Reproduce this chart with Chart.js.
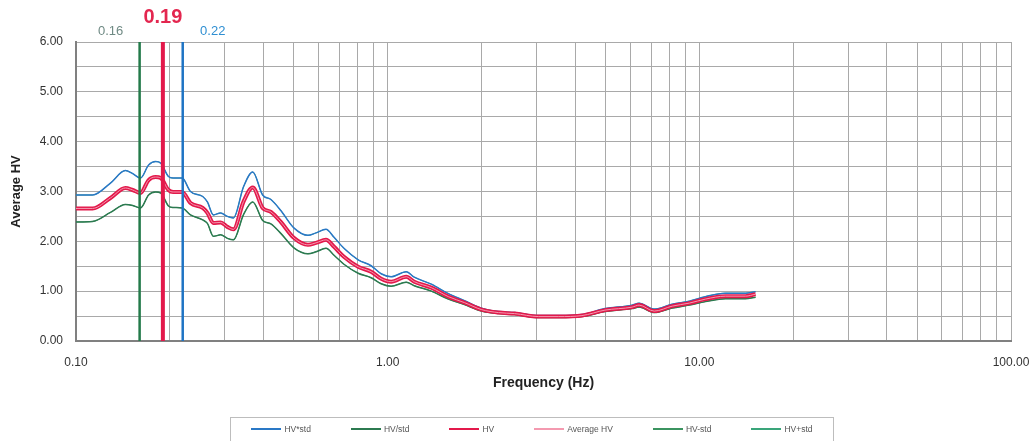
<!DOCTYPE html>
<html>
<head>
<meta charset="utf-8">
<script src="https://cdn.jsdelivr.net/npm/chart.js@4.4.1/dist/chart.umd.min.js"></script>
<style>
  html, body { margin: 0; padding: 0; background: #fff; }
  #wrap { position: relative; width: 1034px; height: 441px; overflow: hidden;
          font-family: "Liberation Sans", Arial, sans-serif; }
  #hv { position: absolute; left: 0; top: 0; }
  #legend { position: absolute; left: 230px; top: 417px; width: 604px; height: 30px;
            border: 1px solid #bdbdbd; box-sizing: border-box; display: flex;
            justify-content: center; align-items: flex-start; gap: 40px; padding-top: 6px;
            font-size: 8.5px; color: #555; }
  #legend .item { display: flex; align-items: center; white-space: nowrap; }
  #legend .sw { display: inline-block; width: 30px; margin-right: 3px; }
</style>
</head>
<body>
<div id="wrap">
  <canvas id="hv" width="1034" height="441"></canvas>
  <div id="legend"></div>
</div>
<script>
// Frequencies (Hz) of the H/V spectral ratio samples
const freqs = [0.100, 0.113, 0.129, 0.144, 0.152, 0.161, 0.171, 0.180, 0.187, 0.198,
               0.205, 0.219, 0.233, 0.255, 0.264, 0.276, 0.291, 0.306, 0.320, 0.345,
               0.369, 0.397, 0.422, 0.454, 0.500, 0.555, 0.589, 0.634, 0.673, 0.724,
               0.804, 0.885, 0.953, 1.026, 1.147, 1.217, 1.381, 1.566, 1.764, 2.000,
               2.269, 2.555, 3.052, 3.541, 4.200, 4.981, 6.085, 6.409, 7.164, 8.186,
               9.286, 10.45, 12.13, 14.07, 15.15];

// Mean H/V amplitude
const hv = [2.66, 2.66, 2.87, 3.07, 3.03, 2.97, 3.23, 3.29, 3.27, 3.03,
            2.99, 2.99, 2.77, 2.67, 2.57, 2.37, 2.38, 2.29, 2.24, 2.80,
            3.08, 2.67, 2.59, 2.39, 2.07, 1.93, 1.97, 2.03, 1.89, 1.69,
            1.49, 1.39, 1.25, 1.19, 1.29, 1.19, 1.07, 0.89, 0.77, 0.63,
            0.57, 0.55, 0.49, 0.49, 0.51, 0.62, 0.68, 0.72, 0.60, 0.70,
            0.76, 0.84, 0.90, 0.90, 0.94];

// H/V multiplied by the standard deviation factor
const hvTimesStd = [2.93, 2.93, 3.17, 3.42, 3.36, 3.27, 3.53, 3.60, 3.57, 3.30,
                    3.27, 3.27, 3.00, 2.90, 2.79, 2.53, 2.57, 2.50, 2.47, 3.10,
                    3.39, 2.93, 2.84, 2.62, 2.27, 2.12, 2.17, 2.24, 2.08, 1.86,
                    1.63, 1.51, 1.35, 1.29, 1.39, 1.28, 1.14, 0.95, 0.81, 0.66,
                    0.59, 0.57, 0.51, 0.51, 0.53, 0.65, 0.72, 0.76, 0.64, 0.74,
                    0.80, 0.89, 0.96, 0.96, 0.99];

// H/V divided by the standard deviation factor
const hvDivStd = [2.39, 2.40, 2.58, 2.74, 2.72, 2.67, 2.93, 2.99, 2.97, 2.71,
                  2.68, 2.67, 2.53, 2.43, 2.36, 2.10, 2.13, 2.06, 2.03, 2.54,
                  2.79, 2.42, 2.35, 2.16, 1.87, 1.75, 1.79, 1.86, 1.72, 1.54,
                  1.36, 1.27, 1.15, 1.10, 1.18, 1.11, 1.00, 0.84, 0.73, 0.60,
                  0.55, 0.53, 0.47, 0.47, 0.49, 0.59, 0.65, 0.68, 0.57, 0.66,
                  0.72, 0.79, 0.85, 0.85, 0.88];

// Peak frequency and its lower / upper bounds (Hz)
const peakFreq = 0.19;
const peakLow = 0.16;
const peakHigh = 0.22;

// Axis ranges
const xRange = [0.1, 100];
const yRange = [0, 6];

const FONT = '"Liberation Sans", Arial, sans-serif';

const pts = arr => freqs.map((f, i) => ({ x: f, y: arr[i] }));
const vline = f => [{ x: f, y: yRange[0] }, { x: f, y: yRange[1] }];

const series = [
  { label: 'HV*std',     data: hvTimesStd, color: '#2a78c6', width: 1.5, order: 3 },
  { label: 'HV/std',     data: hvDivStd,   color: '#2c7a50', width: 1.5, order: 4 },
  { label: 'HV',         data: hv,         color: '#e3194b', width: 4,   order: 2 },
  { label: 'Average HV', data: hv,         color: '#f49ab0', width: 1,   order: 1 },
  { label: 'HV-std',     data: hvDivStd,   color: '#3b9460', width: 1,   order: 6 },
  { label: 'HV+std',     data: hvTimesStd, color: '#3aa57a', width: 1,   order: 5 }
];

const datasets = series.map(s => ({
  label: s.label,
  data: pts(s.data),
  borderColor: s.color,
  borderWidth: s.width,
  pointRadius: 0,
  fill: false,
  cubicInterpolationMode: 'monotone',
  order: s.order
}));

// Vertical markers at the peak frequency and its bounds
datasets.push(
  { label: 'f0 low',  data: vline(peakLow),  borderColor: '#237a4a', borderWidth: 2.5, pointRadius: 0, order: 0 },
  { label: 'f0',      data: vline(peakFreq), borderColor: '#e3194b', borderWidth: 4,   pointRadius: 0, order: 0 },
  { label: 'f0 high', data: vline(peakHigh), borderColor: '#1f74c4', borderWidth: 2.5, pointRadius: 0, order: 0 }
);

// Frequency values written above the plot
const peakLabels = {
  id: 'peakLabels',
  afterDraw(chart) {
    const { ctx, scales: { x } } = chart;
    ctx.save();
    ctx.textAlign = 'center';
    ctx.textBaseline = 'middle';
    ctx.font = '13px ' + FONT;
    ctx.fillStyle = '#6f8a84';
    ctx.fillText(peakLow.toFixed(2), x.getPixelForValue(peakLow) - 29, 31);
    ctx.fillStyle = '#2f8fd2';
    ctx.fillText(peakHigh.toFixed(2), x.getPixelForValue(peakHigh) + 30, 31);
    ctx.font = 'bold 20px ' + FONT;
    ctx.fillStyle = '#e3264f';
    ctx.fillText(peakFreq.toFixed(2), x.getPixelForValue(peakFreq), 17);
    ctx.restore();
  }
};

new Chart(document.getElementById('hv'), {
  type: 'line',
  data: { datasets },
  options: {
    responsive: false,
    animation: false,
    parsing: true,
    layout: { padding: { left: 0, top: 42, right: 23, bottom: 45 } },
    plugins: { legend: { display: false }, tooltip: { enabled: false } },
    scales: {
      x: {
        type: 'logarithmic',
        min: xRange[0],
        max: xRange[1],
        afterBuildTicks(scale) {
          const t = [];
          for (let e = -1; e <= 1; e++)
            for (let m = 1; m <= 9; m++) t.push({ value: m * Math.pow(10, e) });
          t.push({ value: 100 });
          scale.ticks = t;
        },
        afterFit(scale) {
          scale.height = 55;
          scale.paddingLeft = 0;
          scale.paddingRight = 0;
        },
        ticks: {
          autoSkip: false,
          maxRotation: 0,
          padding: 14,
          color: '#333',
          font: { family: FONT, size: 12 },
          callback(v) {
            const l = Math.log10(v);
            return Math.abs(l - Math.round(l)) < 1e-9 ? Number(v).toFixed(2) : '';
          }
        },
        grid: { color: '#a9a9a9', lineWidth: 1, drawTicks: false },
        border: { color: '#808080', width: 2 },
        title: { display: true, text: 'Frequency (Hz)', color: '#222',
                 font: { family: FONT, size: 14, weight: 'bold' }, padding: { top: 0, bottom: 4 } }
      },
      y: {
        min: yRange[0],
        max: yRange[1],
        afterFit(scale) { scale.width = 76; },
        ticks: {
          stepSize: 0.5,
          autoSkip: false,
          padding: 13,
          color: '#333',
          font: { family: FONT, size: 12 },
          callback: v => Number.isInteger(v) ? v.toFixed(2) : ''
        },
        grid: { color: '#a9a9a9', lineWidth: 1, drawTicks: false },
        border: { color: '#808080', width: 2 },
        title: { display: true, text: 'Average HV', color: '#222',
                 font: { family: FONT, size: 13, weight: 'bold' }, padding: { top: 9, bottom: 0 } }
      }
    }
  },
  plugins: [peakLabels]
});

// Legend strip under the chart
const legend = document.getElementById('legend');
series.forEach(s => {
  const item = document.createElement('div');
  item.className = 'item';
  const sw = document.createElement('span');
  sw.className = 'sw';
  sw.style.height = (s.width > 2 ? 2 : 1.5) + 'px';
  sw.style.background = s.color;
  const tx = document.createElement('span');
  tx.textContent = s.label;
  item.appendChild(sw);
  item.appendChild(tx);
  legend.appendChild(item);
});
</script>
</body>
</html>
